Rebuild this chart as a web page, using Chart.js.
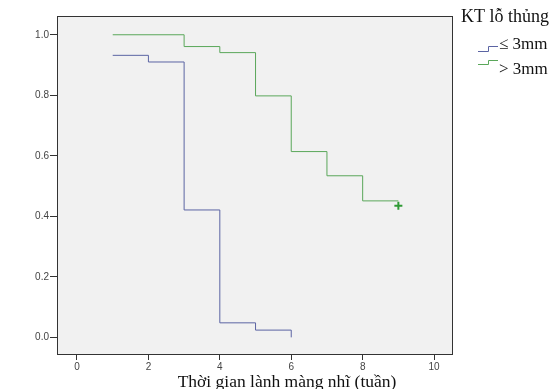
<!DOCTYPE html>
<html lang="vi">
<head>
  <meta charset="UTF-8" />
  <title>KT lỗ thủng</title>
  <script src="https://cdn.jsdelivr.net/npm/chart.js"></script>
  <style>
    html, body { margin: 0; padding: 0; background: #fff; }
    #wrap { width: 553px; height: 389px; }
  </style>
</head>
<body>
  <div id="wrap"><canvas id="km" width="553" height="389"></canvas></div>

  <script>
    // Kaplan-Meier steps
    const smallWeeks = [1, 2, 3, 4, 5, 6];
    const smallSurv = [0.932, 0.910, 0.421, 0.048, 0.024, 0.0];
    const largeWeeks = [1, 3, 4, 5, 6, 7, 8, 9];
    const largeSurv = [1.0, 0.961, 0.941, 0.798, 0.614, 0.534, 0.451, 0.451];
    const censoredWeeks = [9];
    const censoredSurv = [0.435];

    const xTicks = [0, 2, 4, 6, 8, 10];
    const yTicks = [0.0, 0.2, 0.4, 0.6, 0.8, 1.0];

    const legendTitle = "KT lỗ thủng";
    const legendLabels = ["≤ 3mm", "> 3mm"];
    const xTitle = "Thời gian lành màng nhĩ (tuần)";

    const blue = "#5b64a3";
    const green = "#5aa75a";

    const toPoints = (xs, ys) => xs.map((x, i) => ({ x: x, y: ys[i] }));

    // plot background, frame, legend and axis title
    const decor = {
      id: "decor",
      beforeDraw(chart) {
        const { ctx, chartArea: a } = chart;
        ctx.save();
        ctx.fillStyle = "#f1f1f1";
        ctx.fillRect(a.left, a.top, a.right - a.left, a.bottom - a.top);
        ctx.restore();
      },
      afterDraw(chart) {
        const { ctx, chartArea: a } = chart;
        ctx.save();
        ctx.strokeStyle = "#333";
        ctx.lineWidth = 1;
        ctx.strokeRect(a.left + 0.5, a.top + 0.5, a.right - a.left - 1, a.bottom - a.top);

        ctx.fillStyle = "#111";
        ctx.textBaseline = "alphabetic";
        ctx.font = "18px 'Liberation Serif'";
        ctx.textAlign = "left";
        ctx.fillText(legendTitle, 461, 22);

        const colors = [blue, green];
        const rows = [{ lo: 51.5, hi: 46.5, ty: 49 }, { lo: 64.5, hi: 60.5, ty: 74 }];
        ctx.font = "17px 'Liberation Serif'";
        rows.forEach((r, i) => {
          ctx.strokeStyle = colors[i];
          ctx.beginPath();
          ctx.moveTo(478, r.lo);
          ctx.lineTo(488.5, r.lo);
          ctx.lineTo(488.5, r.hi);
          ctx.lineTo(498, r.hi);
          ctx.stroke();
          ctx.fillText(legendLabels[i], 499, r.ty);
        });

        ctx.font = "17.5px 'Liberation Serif'";
        ctx.textAlign = "center";
        ctx.fillText(xTitle, 287, 387);
        ctx.restore();
      }
    };

    new Chart(document.getElementById("km"), {
      type: "line",
      data: {
        datasets: [
          {
            label: legendLabels[0],
            data: toPoints(smallWeeks, smallSurv),
            borderColor: blue,
            borderWidth: 1,
            stepped: true,
            pointRadius: 0,
            fill: false
          },
          {
            label: legendLabels[1],
            data: toPoints(largeWeeks, largeSurv),
            borderColor: green,
            borderWidth: 1,
            stepped: true,
            pointRadius: 0,
            fill: false
          },
          {
            label: "censored",
            data: toPoints(censoredWeeks, censoredSurv),
            showLine: false,
            pointStyle: "cross",
            pointRadius: 4,
            borderColor: "#2f9a35",
            borderWidth: 2
          }
        ]
      },
      options: {
        responsive: false,
        animation: false,
        layout: { padding: { top: 16, right: 100, left: 0, bottom: 0 } },
        plugins: {
          legend: { display: false },
          tooltip: { enabled: false }
        },
        scales: {
          x: {
            type: "linear",
            min: -0.56,
            max: 10.53,
            afterBuildTicks: s => { s.ticks = xTicks.map(v => ({ value: v })); },
            afterFit: s => { s.height = 35; },
            grid: { drawOnChartArea: false, tickLength: 6, color: "#333", tickColor: "#333" },
            border: { display: false },
            ticks: {
              color: "#444",
              padding: 1,
              maxRotation: 0,
              font: { family: "'Liberation Sans'", size: 10 },
              callback: v => String(v)
            }
          },
          y: {
            min: -0.055,
            max: 1.062,
            afterBuildTicks: s => { s.ticks = yTicks.map(v => ({ value: v })); },
            afterFit: s => { s.width = 57; },
            grid: { drawOnChartArea: false, tickLength: 7, color: "#333", tickColor: "#333" },
            border: { display: false },
            ticks: {
              color: "#444",
              padding: 1,
              font: { family: "'Liberation Sans'", size: 10 },
              callback: v => v.toFixed(1)
            }
          }
        }
      },
      plugins: [decor]
    });
  </script>
</body>
</html>
